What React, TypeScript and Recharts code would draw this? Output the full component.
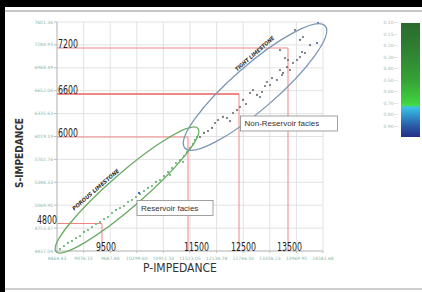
import React from 'react';
import {
  ScatterChart,
  Scatter,
  XAxis,
  YAxis,
  CartesianGrid,
  ReferenceLine,
  ReferenceDot,
} from 'recharts';

// axis ticks
const xTicks = [8464.43, 9076.15, 9687.88, 10299.6, 10911.33, 11523.05, 12134.78, 12746.5, 13358.23, 13969.95, 14581.68];
const yTicks = [4437.04, 4753.47, 5069.9, 5386.33, 5702.76, 6019.19, 6335.63, 6652.06, 6968.49, 7284.93, 7601.36];

// porous limestone samples (green)
const porousPts = [
  { p: 8533, s: 4465 }, { p: 8625, s: 4506 }, { p: 8717, s: 4548 }, { p: 8809, s: 4575 },
  { p: 8901, s: 4617 }, { p: 8993, s: 4644 }, { p: 9085, s: 4700 }, { p: 9177, s: 4727 },
  { p: 9269, s: 4769 }, { p: 9361, s: 4810 }, { p: 9453, s: 4838 }, { p: 9545, s: 4879 },
  { p: 9637, s: 4907 }, { p: 9729, s: 4962 }, { p: 9821, s: 5004 }, { p: 9913, s: 5031 },
  { p: 10005, s: 5059 }, { p: 10097, s: 5114 }, { p: 10189, s: 5142 }, { p: 10281, s: 5183 },
  { p: 10373, s: 5225 }, { p: 10465, s: 5266 }, { p: 10557, s: 5308 }, { p: 10649, s: 5335 },
  { p: 10741, s: 5391 }, { p: 10833, s: 5418 }, { p: 10925, s: 5473 }, { p: 11017, s: 5529 },
  { p: 11109, s: 5584 }, { p: 11201, s: 5653 }, { p: 11293, s: 5694 }, { p: 11385, s: 5750 },
  { p: 11454, s: 5805 }, { p: 11523, s: 5860 }, { p: 11592, s: 5915 }, { p: 11638, s: 5971 },
  { p: 11684, s: 6012 }, { p: 11362, s: 5667 }, { p: 11063, s: 5487 },
];

// tight limestone samples (grey)
const tightPts = [
  { p: 11753, s: 6012 }, { p: 11845, s: 6068 }, { p: 11937, s: 6095 }, { p: 12029, s: 6137 },
  { p: 12098, s: 6206 }, { p: 12167, s: 6247 }, { p: 12282, s: 6289 }, { p: 12374, s: 6275 },
  { p: 12443, s: 6233 }, { p: 12512, s: 6344 }, { p: 12604, s: 6385 }, { p: 12673, s: 6427 },
  { p: 12742, s: 6524 }, { p: 12811, s: 6468 }, { p: 12903, s: 6620 }, { p: 12972, s: 6662 },
  { p: 13064, s: 6593 }, { p: 13133, s: 6565 }, { p: 13179, s: 6634 }, { p: 13248, s: 6717 },
  { p: 13294, s: 6772 }, { p: 13363, s: 6731 }, { p: 13409, s: 6827 }, { p: 13524, s: 6800 },
  { p: 13593, s: 6938 }, { p: 13639, s: 6869 }, { p: 13662, s: 6897 }, { p: 13754, s: 6979 },
  { p: 13777, s: 7076 }, { p: 13823, s: 6938 }, { p: 13892, s: 7035 }, { p: 13984, s: 7076 },
  { p: 14053, s: 7118 }, { p: 14099, s: 7187 }, { p: 14168, s: 7173 }, { p: 13593, s: 7214 },
  { p: 14053, s: 7353 }, { p: 14122, s: 7394 }, { p: 14283, s: 7283 }, { p: 13938, s: 7491 },
  { p: 13708, s: 7104 },
];

// blue highlighted samples
const bluePts = [
  { p: 14444, s: 7311 }, { p: 14467, s: 7587 }, { p: 10350, s: 5240 },
];

// hand-drawn cutoffs
const sCutoffs = [
  { label: '7200', s: 7242, pEnd: 13777 },
  { label: '6600', s: 6606, pEnd: 12650 },
  { label: '6000', s: 6012, pEnd: 11477 },
  { label: '4800', s: 4816, pEnd: 9499 },
];
const pLabels = [
  { label: '9500', p: 9361 },
  { label: '11500', p: 11385 },
  { label: '12500', p: 12466 },
  { label: '13500', p: 13523 },
];

const colorbarTicks = ['0.10', '0.15', '0.20', '0.30', '0.40', '0.50', '0.60', '0.70', '0.80', '0.90'];

const NARROW = "'Liberation Sans Narrow', 'DejaVu Sans Condensed', 'Liberation Sans', sans-serif";
const TICK_COLOR = '#86b8ab';
const RED = '#ef8585';

const fmt = (v: number) => v.toFixed(2);

const dot = (color: string) => (props: any) => (
  <circle cx={props.cx} cy={props.cy} r={1.1} fill={color} />
);

const bigText = (text: string, dx = 0) => (props: any) => (
  <text
    x={props.cx + dx}
    y={props.cy}
    fontSize={12.5}
    fontFamily={NARROW}
    fill="#1d1d1d"
    textLength={text.length * 5}
    lengthAdjust="spacingAndGlyphs"
  >
    {text}
  </text>
);

const ellipse = (rx: number, ry: number, color: string) => (props: any) => (
  <ellipse
    cx={props.cx}
    cy={props.cy}
    rx={rx}
    ry={ry}
    transform={`rotate(-41 ${props.cx} ${props.cy})`}
    fill="none"
    stroke={color}
    strokeWidth={1.3}
  />
);

const slantText = (text: string, len: number) => (props: any) => (
  <text
    x={props.cx}
    y={props.cy}
    transform={`rotate(-41 ${props.cx} ${props.cy})`}
    textAnchor="middle"
    fontSize={5.5}
    fontStyle="italic"
    fontWeight="bold"
    fontFamily={NARROW}
    fill="#333"
    textLength={len}
    lengthAdjust="spacingAndGlyphs"
  >
    {text}
  </text>
);

const boxText = (text: string, w: number) => (props: any) => (
  <g>
    <rect x={props.cx - w / 2} y={props.cy - 7.5} width={w} height={15} fill="#fff" stroke="#8a8a8a" strokeWidth={0.8} />
    <text
      x={props.cx - w / 2 + 4}
      y={props.cy + 3}
      fontSize={8}
      fontFamily="'Liberation Sans', Arial, sans-serif"
      fill="#333"
    >
      {text}
    </text>
  </g>
);

export default function App() {
  return (
    <div style={{ position: 'absolute', left: 0, top: 0, width: 422, height: 292, background: '#fff', overflow: 'hidden' }}>
      {/* screenshot frame */}
      <div style={{ position: 'absolute', left: 0, top: 0, width: 422, height: 7, background: '#000' }} />
      <div style={{ position: 'absolute', left: 0, top: 0, width: 5, height: 292, background: '#000' }} />
      <div style={{ position: 'absolute', left: 5, top: 10, width: 417, height: 2, background: '#c8c8c8' }} />
      <div style={{ position: 'absolute', left: 5, top: 288, width: 417, height: 2, background: '#cfcfcf' }} />

      <ScatterChart
        width={422}
        height={292}
        margin={{ top: 22, right: 99, bottom: 21, left: 8 }}
        style={{ position: 'absolute', left: 0, top: 0 }}
      >
        <CartesianGrid stroke="#dadada" strokeWidth={0.8} />
        <XAxis
          type="number"
          dataKey="p"
          domain={[xTicks[0], xTicks[xTicks.length - 1]]}
          ticks={xTicks}
          tickFormatter={fmt}
          height={20}
          tick={{ fontSize: 4.5, fill: TICK_COLOR, fontFamily: 'DejaVu Sans' }}
          tickSize={2}
          tickMargin={4}
          stroke="#bdbdbd"
          interval={0}
        />
        <YAxis
          type="number"
          dataKey="s"
          domain={[yTicks[0], yTicks[yTicks.length - 1]]}
          ticks={yTicks}
          tickFormatter={fmt}
          width={49}
          tick={{ fontSize: 4.5, fill: TICK_COLOR, fontFamily: 'DejaVu Sans' }}
          tickSize={3}
          tickMargin={1}
          stroke="#bdbdbd"
          interval={0}
        />

        {sCutoffs.map((c) => (
          <ReferenceLine
            key={'h' + c.label}
            segment={[{ x: xTicks[0], y: c.s }, { x: c.pEnd, y: c.s }]}
            stroke={RED}
            strokeWidth={c.label === '6600' ? 2 : 1.1}
            ifOverflow="visible"
          />
        ))}
        {sCutoffs.map((c) => (
          <ReferenceLine
            key={'v' + c.label}
            segment={[{ x: c.pEnd, y: c.s }, { x: c.pEnd, y: yTicks[0] }]}
            stroke={RED}
            strokeWidth={1}
            ifOverflow="visible"
          />
        ))}

        <Scatter data={porousPts} fill="#5fb56f" shape={dot('#5fb56f')} isAnimationActive={false} />
        <Scatter data={tightPts} fill="#6a6f78" shape={dot('#6a6f78')} isAnimationActive={false} />
        <Scatter data={bluePts} fill="#3b62b0" shape={dot('#3b62b0')} isAnimationActive={false} />

        {/* facies envelopes */}
        <ReferenceDot x={10074} y={5280} ifOverflow="visible" shape={ellipse(94, 17, '#66aa5f')} />
        <ReferenceDot x={13018} y={6703} ifOverflow="visible" shape={ellipse(93, 22, '#7b96b4')} />
        <ReferenceDot x={9384} y={5266} ifOverflow="visible" shape={slantText('POROUS LIMESTONE', 60)} />
        <ReferenceDot x={13041} y={7145} ifOverflow="visible" shape={slantText('TIGHT LIMESTONE', 50)} />
        <ReferenceDot x={13800} y={6199} ifOverflow="visible" shape={boxText('Non-Reservoir facies', 97)} />
        <ReferenceDot x={11178} y={5031} ifOverflow="visible" shape={boxText('Reservoir facies', 76)} />

        {/* cutoff labels */}
        {sCutoffs.map((c) => (
          <ReferenceDot
            key={'l' + c.label}
            x={xTicks[0]}
            y={c.s}
            ifOverflow="visible"
            shape={bigText(c.label, c.label === '4800' ? -20 : 1)}
          />
        ))}
        {pLabels.map((c) => (
          <ReferenceDot key={'p' + c.label} x={c.p} y={yTicks[0]} ifOverflow="visible" shape={bigText(c.label, 0)} />
        ))}
      </ScatterChart>

      {/* axis titles */}
      <div
        style={{
          position: 'absolute', left: 143, top: 262, fontSize: 12, lineHeight: '12px',
          fontFamily: NARROW, color: '#333', whiteSpace: 'nowrap',
        }}
      >
        P-IMPEDANCE
      </div>
      <div
        style={{
          position: 'absolute', left: 20, top: 153, transform: 'translate(-50%, -50%) rotate(-90deg)',
          fontSize: 10, lineHeight: '10px', fontWeight: 'bold', fontFamily: NARROW, color: '#333', whiteSpace: 'nowrap',
        }}
      >
        S-IMPEDANCE
      </div>

      {/* colour scale */}
      <div
        style={{
          position: 'absolute', left: 401, top: 23, width: 19, height: 114,
          background:
            'linear-gradient(to bottom, #2b6a2e 0%, #2f8232 25%, #36a236 50%, #3fd23f 70%, #40e040 72%, #3cc0e6 74%, #2f90c8 82%, #2a5ca8 90%, #232f86 100%)',
        }}
      />
      {colorbarTicks.map((t, i) => (
        <div
          key={t}
          style={{
            position: 'absolute', left: 378, top: 20 + i * 11.5, width: 20, fontSize: 4.5,
            lineHeight: '6px', color: '#a9b7b3', fontFamily: 'DejaVu Sans', textAlign: 'right',
          }}
        >
          {t}—
        </div>
      ))}
    </div>
  );
}
